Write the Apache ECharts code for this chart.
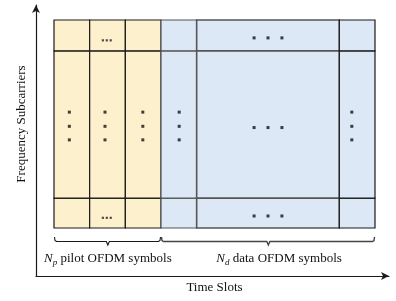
<!DOCTYPE html>
<html>
<head>
<meta charset="utf-8">
<script src="https://cdn.jsdelivr.net/npm/echarts@6/dist/echarts.min.js"></script>
<style>
  html, body { margin: 0; padding: 0; background: #fff; }
  #chart { width: 396px; height: 301px; }
</style>
</head>
<body>
<div id="chart"></div>
<script>
// resource grid: column edges (time slots) and row edges (subcarriers)
const colEdges = [0, 1, 2, 3, 4, 8, 9];
const colKinds = ['pilot', 'pilot', 'pilot', 'data', 'data', 'data'];
const rowEdges = [0, 0.97, 5.75, 6.75];

// vertical ellipsis dots
const vDotX = [0.43, 1.43, 2.49, 3.51, 8.35];
const vDotY = [3.76, 3.30, 2.86];
// horizontal ellipsis dots in the data block
const hDotX = [5.61, 6.0, 6.39];
const hDotY = [6.17, 3.26, 0.39];
// small ellipsis in the pilot block
const pDotX = [1.37, 1.48, 1.59];
const pDotY = [6.09, 0.33];

// braces under the grid
const braceStart = [0, 3];
const braceEnd = [3, 9];
const braceTip = [1.51, 6.01];
const braceLabelX = [1.51, 6.31];
const braceSub = ['p', 'd'];
const braceText = [' pilot OFDM symbols', ' data OFDM symbols'];

const FONT = 'Liberation Serif';

let cells = [];
for (let i = 0; i < colEdges.length - 1; i++) {
  for (let j = 0; j < rowEdges.length - 1; j++) {
    cells.push([colEdges[i], colEdges[i + 1], rowEdges[j], rowEdges[j + 1], i]);
  }
}

let bigDots = [];
for (let x of vDotX) for (let y of vDotY) bigDots.push([x, y]);
for (let x of hDotX) for (let y of hDotY) bigDots.push([x, y]);
let smallDots = [];
for (let x of pDotX) for (let y of pDotY) smallDots.push([x, y]);

let braces = [];
for (let i = 0; i < braceStart.length; i++) {
  braces.push([braceStart[i], braceEnd[i], braceTip[i], braceLabelX[i], i]);
}

const chart = echarts.init(document.getElementById('chart'));

const option = {
  animation: false,
  grid: [
    // arrow axes
    { left: 36, right: 7, top: 5, bottom: 25 },
    // resource grid
    { left: 54, top: 20, width: 321, height: 208 }
  ],
  xAxis: [
    {
      gridIndex: 0, type: 'value', min: 0, max: 1,
      axisLine: { show: true, onZero: false, symbol: ['none', 'arrow'], symbolSize: [6, 8],
        lineStyle: { color: '#1a1a1a', width: 1.2 } },
      axisTick: { show: false }, axisLabel: { show: false }, splitLine: { show: false }
    },
    {
      gridIndex: 1, type: 'value', min: 0, max: 9,
      name: 'Time Slots', nameLocation: 'middle', nameGap: 53,
      nameTextStyle: { fontFamily: FONT, fontSize: 13, color: '#111' },
      axisLine: { show: false }, axisTick: { show: false }, axisLabel: { show: false }, splitLine: { show: false }
    }
  ],
  yAxis: [
    {
      gridIndex: 0, type: 'value', min: 0, max: 1,
      axisLine: { show: true, onZero: false, symbol: ['none', 'arrow'], symbolSize: [6, 8],
        lineStyle: { color: '#1a1a1a', width: 1.2 } },
      axisTick: { show: false }, axisLabel: { show: false }, splitLine: { show: false }
    },
    {
      gridIndex: 1, type: 'value', min: 0, max: 6.75,
      name: 'Frequency Subcarriers', nameLocation: 'middle', nameGap: 26,
      nameTextStyle: { fontFamily: FONT, fontSize: 13, color: '#111' },
      axisLine: { show: false }, axisTick: { show: false }, axisLabel: { show: false }, splitLine: { show: false }
    }
  ],
  series: [
    {
      type: 'custom',
      xAxisIndex: 1, yAxisIndex: 1,
      data: cells,
      encode: { x: [0, 1], y: [2, 3] },
      silent: true,
      renderItem: function (params, api) {
        let p0 = api.coord([api.value(0), api.value(3)]);
        let p1 = api.coord([api.value(1), api.value(2)]);
        let col = api.value(4);
        let pilot = colKinds[col] == 'pilot';
        return {
          type: 'rect',
          shape: { x: p0[0], y: p0[1], width: p1[0] - p0[0], height: p1[1] - p0[1] },
          style: {
            fill: pilot ? '#fdf1cd' : '#dce8f6',
            stroke: col == 3 || col == 4 ? '#555' : '#1a1a1a',
            lineWidth: col == 4 ? 1.6 : 1.2
          }
        };
      }
    },
    {
      type: 'scatter',
      xAxisIndex: 1, yAxisIndex: 1,
      data: bigDots,
      symbol: 'rect', symbolSize: 3,
      itemStyle: { color: '#111' },
      silent: true
    },
    {
      type: 'scatter',
      xAxisIndex: 1, yAxisIndex: 1,
      data: smallDots,
      symbol: 'rect', symbolSize: 2.2,
      itemStyle: { color: '#222' },
      silent: true
    },
    {
      type: 'custom',
      xAxisIndex: 1, yAxisIndex: 1,
      data: braces,
      encode: { x: [0, 1] },
      silent: true,
      clip: false,
      renderItem: function (params, api) {
        let base = api.coord([0, 0])[1];
        let x0 = api.coord([api.value(0), 0])[0];
        let x1 = api.coord([api.value(1), 0])[0];
        let xt = api.coord([api.value(2), 0])[0];
        let xl = api.coord([api.value(3), 0])[0];
        let i = api.value(4);
        let yEnd = base + 9, yMid = base + 13.5, yTip = base + 17;
        return {
          type: 'group',
          children: [
            {
              type: 'polyline',
              shape: { points: [[x0 + 0.5, yEnd], [x0 + 1, yMid - 1], [x0 + 2.5, yMid], [xt - 1.5, yMid], [xt, yTip],
                [xt + 1.5, yMid], [x1 - 2.5, yMid], [x1 - 1, yMid - 1], [x1 - 0.5, yEnd]] },
              style: { stroke: i == 0 ? '#1a1a1a' : '#444', lineWidth: i == 0 ? 1.1 : 1.4, fill: null }
            },
            {
              type: 'text',
              style: {
                x: xl, y: base + 31,
                text: '{n|N}{s|' + braceSub[i] + '}{t|' + braceText[i] + '}',
                align: 'center', verticalAlign: 'middle',
                fill: '#111',
                rich: {
                  n: { fontFamily: FONT, fontSize: 13, fontStyle: 'italic', lineHeight: 16, verticalAlign: 'middle' },
                  s: { fontFamily: FONT, fontSize: 9, fontStyle: 'italic', lineHeight: 9, verticalAlign: 'bottom' },
                  t: { fontFamily: FONT, fontSize: 13, lineHeight: 16, verticalAlign: 'middle' }
                }
              }
            }
          ]
        };
      }
    }
  ]
};

chart.setOption(option);
</script>
</body>
</html>
